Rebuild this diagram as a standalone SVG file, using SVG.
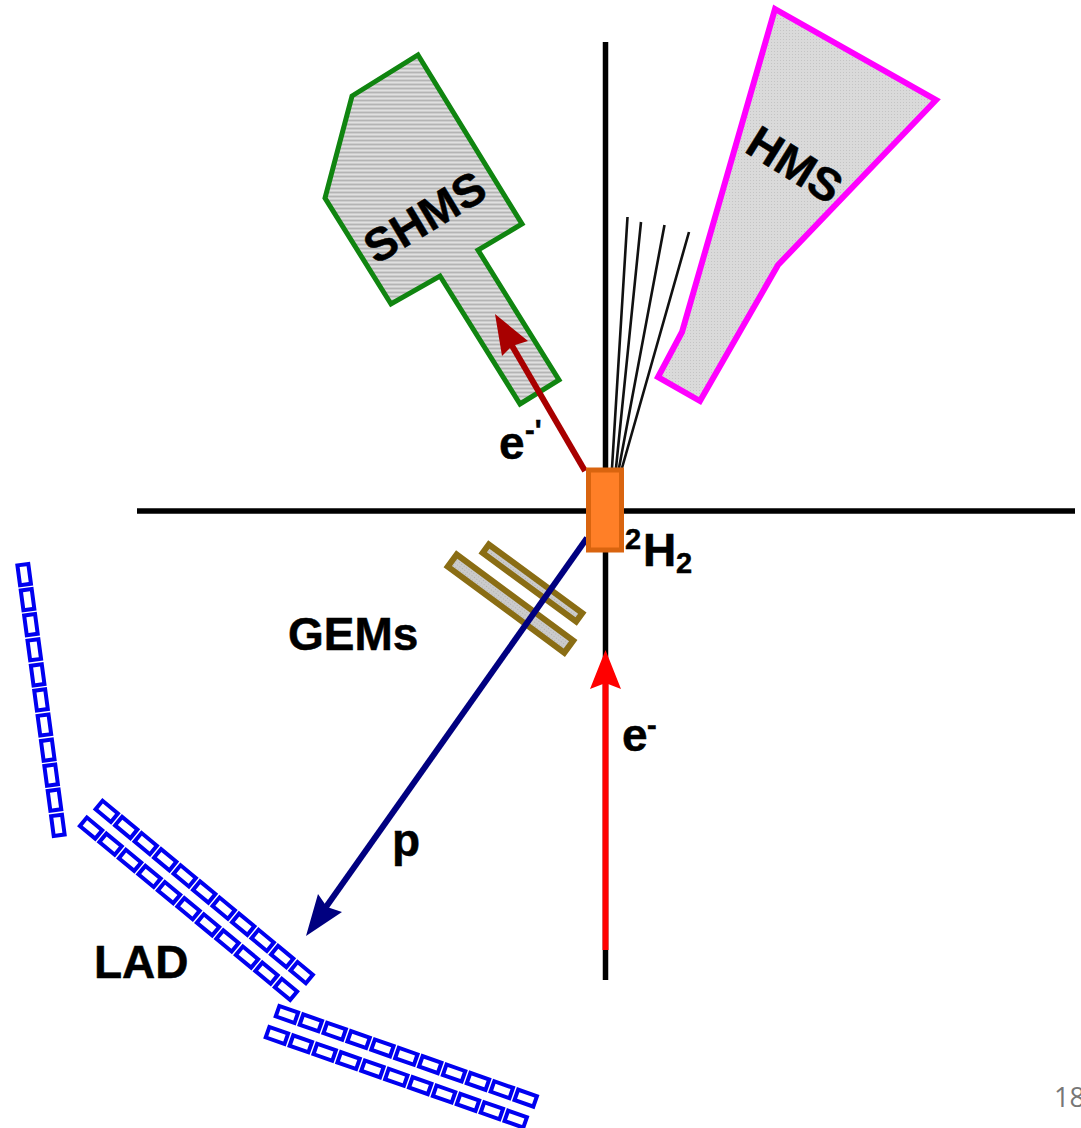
<svg xmlns="http://www.w3.org/2000/svg" width="1081" height="1128" viewBox="0 0 1081 1128">
<style>
text{font-family:"Liberation Sans",Arial,sans-serif;font-weight:bold;fill:#000;stroke:#000;stroke-width:.5}
.axis{stroke:#000;stroke-width:5.5;fill:none}
.fan{stroke:#111;stroke-width:2.6;fill:none}
.cell{fill:#fff;stroke:#0000f0;stroke-width:4}
.gem{fill:url(#gemfill);stroke:#8a6d14;stroke-width:6}
</style>
<defs>
<pattern id="lines" width="4" height="4" patternUnits="userSpaceOnUse">
<rect width="4" height="4" fill="#cdcdcd"/>
<rect width="4" height="1" fill="#b4b4b4"/>
<rect y="2" width="4" height="1" fill="#e0e0e0"/>
</pattern>
<pattern id="dots" width="3" height="3" patternUnits="userSpaceOnUse">
<rect width="3" height="3" fill="#dadada"/>
<rect width="1" height="1" fill="#c4c4c4"/>
</pattern>
<pattern id="gemfill" width="3" height="3" patternUnits="userSpaceOnUse">
<rect width="3" height="3" fill="#cbcbcb"/>
<rect width="1" height="1" fill="#b0b0b0"/>
</pattern>
<g id="strip">
<rect class="cell" x="2.7" y="-5.5" width="19.9" height="11"/>
<rect class="cell" x="28" y="-5.5" width="19.9" height="11"/>
<rect class="cell" x="53.3" y="-5.5" width="19.9" height="11"/>
<rect class="cell" x="78.6" y="-5.5" width="19.9" height="11"/>
<rect class="cell" x="103.9" y="-5.5" width="19.9" height="11"/>
<rect class="cell" x="129.2" y="-5.5" width="19.9" height="11"/>
<rect class="cell" x="154.5" y="-5.5" width="19.9" height="11"/>
<rect class="cell" x="179.8" y="-5.5" width="19.9" height="11"/>
<rect class="cell" x="205.1" y="-5.5" width="19.9" height="11"/>
<rect class="cell" x="230.4" y="-5.5" width="19.9" height="11"/>
<rect class="cell" x="255.7" y="-5.5" width="19.9" height="11"/>
</g>
</defs>
<rect width="1081" height="1128" fill="#fff"/>
<g id="connectors">
<path class="axis" d="M605.5 42V980"/>
<path class="axis" d="M137 511H1075"/>
<path class="fan" d="M612 468L627.5 217M616 468L641 222M619 468L664.5 225M622 468L689 232"/>
</g>
<g id="SHMS">
<polygon points="418,55 522,224 478,250 559,380 520,404 440,276 391,304 325,198 352,96" fill="url(#lines)" stroke="#108510" stroke-width="5"/>
<text transform="translate(376 265) rotate(-31)" font-size="46">SHMS</text>
</g>
<g id="HMS">
<polygon points="775,9 936,100 778,265 700,401 658,377 682,332" fill="url(#dots)" stroke="#ff00ff" stroke-width="6"/>
<text transform="translate(743 151) rotate(32)" font-size="46">HMS</text>
</g>
<g id="GEMs">
<rect class="gem" x="-58" y="-5.2" width="116" height="10.4" transform="translate(532.5 583) rotate(36.3)"/>
<rect class="gem" x="-72.5" y="-7.5" width="145" height="15" transform="translate(510.5 603.6) rotate(36.5)"/>
<text x="288" y="650" font-size="46">GEMs</text>
</g>
<g id="beam-arrows">
<path d="M605.5 950V680" stroke="#ff0000" stroke-width="6" fill="none"/>
<polygon points="605.5,650 621,689 605.5,683 590,689" fill="#ff0000"/>
<path d="M585 471L511 344" stroke="#a80000" stroke-width="6" fill="none"/>
<polygon points="495,314 528,341 512,346 502,356" fill="#a80000"/>
<path d="M587 538L326 907" stroke="#000080" stroke-width="6" fill="none"/>
<polygon points="306,936 318,894 327,907 342,912" fill="#000080"/>
</g>
<g id="target">
<rect x="588.5" y="470" width="33" height="80" fill="#ff7f27" stroke="#d9640f" stroke-width="5"/>
<text x="625" y="549" font-size="29">2</text>
<text x="643" y="566" font-size="46">H</text>
<text x="676" y="573" font-size="29">2</text>
</g>
<g id="labels">
<text x="499" y="459" font-size="46">e</text>
<text x="525" y="440" font-size="29">-'</text>
<text x="622" y="751" font-size="46">e</text>
<text x="647" y="735" font-size="29">-</text>
<text x="392" y="856" font-size="46">p</text>
</g>
<g id="LAD">
<use href="#strip" transform="translate(22.5 562) rotate(82.35)"/>
<use href="#strip" transform="translate(97 803.3) rotate(39.6)"/>
<use href="#strip" transform="translate(81.3 820) rotate(39.6)"/>
<use href="#strip" transform="translate(275 1010.3) rotate(19.3)"/>
<use href="#strip" transform="translate(265 1031.3) rotate(19.3)"/>
<text x="94" y="978" font-size="46">LAD</text>
</g>
<text id="page" x="1054" y="1107" font-size="27" style="font-family:'Open Sans',sans-serif;font-weight:normal;fill:#777;stroke:none">18</text>
</svg>
